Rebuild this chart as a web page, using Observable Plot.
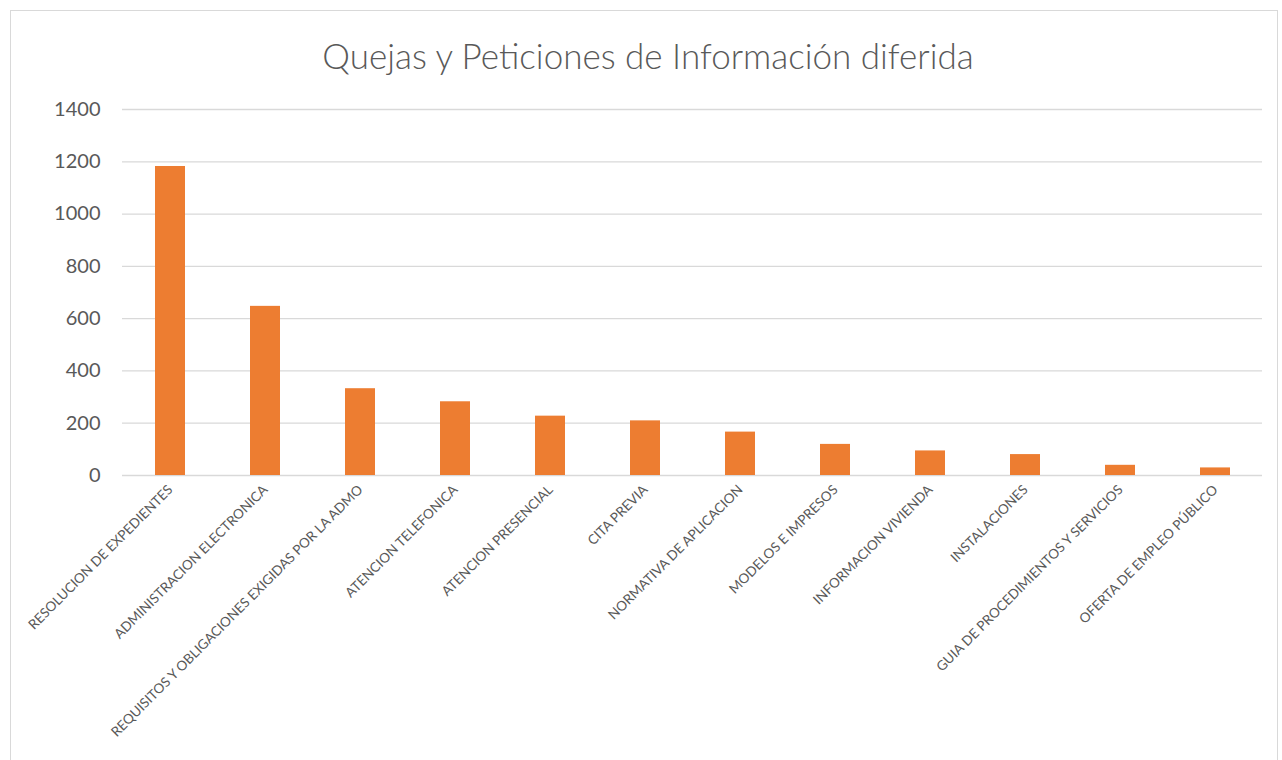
<!DOCTYPE html>
<html>
<head>
<meta charset="utf-8">
<script src="https://cdn.jsdelivr.net/npm/d3@7"></script>
<script src="https://cdn.jsdelivr.net/npm/@observablehq/plot@0.6"></script>
<style>
  html, body { margin: 0; padding: 0; background: #fff; width: 1282px; height: 760px; overflow: hidden; position: relative; }
  #frame { position: absolute; left: 10px; top: 10px; width: 1268px; height: 800px; border: 1px solid #d9d9d9; box-sizing: border-box; }
  #title { position: absolute; left: 0; top: 34px; width: 1296px; text-align: center; font-family: Lato, "Open Sans", sans-serif; font-weight: 300; font-size: 35px; color: #595959; line-height: 42px; }
  #chart { position: absolute; left: 0; top: 80px; }
</style>
</head>
<body>
<div id="frame"></div>
<div id="title">Quejas y Peticiones de Información diferida</div>
<div id="chart"></div>
<script>
const categories = [
  "RESOLUCION DE EXPEDIENTES",
  "ADMINISTRACION ELECTRONICA",
  "REQUISITOS Y OBLIGACIONES EXIGIDAS POR LA ADMO",
  "ATENCION TELEFONICA",
  "ATENCION PRESENCIAL",
  "CITA PREVIA",
  "NORMATIVA DE APLICACION",
  "MODELOS E IMPRESOS",
  "INFORMACION VIVIENDA",
  "INSTALACIONES",
  "GUIA DE PROCEDIMIENTOS Y SERVICIOS",
  "OFERTA DE EMPLEO PÚBLICO"
];
const values = [1182, 647, 332, 282, 227, 209, 166, 119, 94, 80, 39, 29];
const yTicks = [0, 200, 400, 600, 800, 1000, 1200, 1400];

const data = categories.map((c, i) => ({category: c, value: values[i]}));

const chart = Plot.plot({
  width: 1282,
  height: 670,
  marginTop: 29,
  marginBottom: 275,
  marginLeft: 122,
  marginRight: 20,
  style: {fontFamily: "Lato, 'Open Sans', sans-serif", color: "#595959", background: "transparent"},
  x: {domain: categories, paddingInner: 0.685, paddingOuter: 0.3425, label: null},
  y: {domain: [0, 1400], ticks: yTicks, label: null},
  marks: [
    Plot.gridY(yTicks, {stroke: "#d9d9d9", strokeOpacity: 1, strokeWidth: 1.3}),
    Plot.barY(data, {x: "category", y: "value", fill: "#ED7D31"}),
    Plot.axisY(yTicks, {tickSize: 0, tickPadding: 22, fontSize: 20, fill: "#595959", label: null, tickFormat: d => String(d)}),
    Plot.axisX({tickSize: 0, tickPadding: 12, tickRotate: -45, fontSize: 13.5, fill: "#595959", label: null})
  ]
});
document.getElementById("chart").appendChild(chart);
</script>
</body>
</html>
